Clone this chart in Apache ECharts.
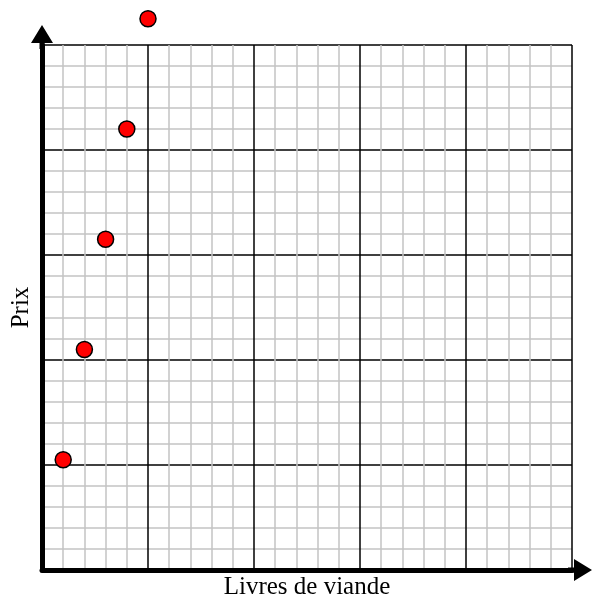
<!DOCTYPE html>
<html>
<head>
<meta charset="utf-8">
<script src="https://cdn.jsdelivr.net/npm/echarts@6/dist/echarts.min.js"></script>
<style>html,body{margin:0;padding:0;background:#fff;overflow:hidden}#c{width:595px;height:605px}</style>
</head>
<body>
<div id="c"></div>
<script>
var livres = [1, 2, 3, 4, 5];
var prix = [5.25, 10.5, 15.75, 21, 26.25];
var xName = 'Livres de viande';
var yName = 'Prix';

var pts = livres.map(function (x, i) { return [x, prix[i]]; });
var font = '"Liberation Serif", "Times New Roman", serif';
var arrowY = 'path://M0,0 L11,18 L2.5,18 L2.5,24 L-2.5,24 L-2.5,18 L-11,18 Z';

function axisCommon(name, gap) {
  return {
    type: 'value', min: 0, max: 25, interval: 5,
    name: name, nameLocation: 'middle', nameGap: gap,
    nameTextStyle: { fontFamily: font, fontSize: 25, color: '#000' },
    axisLabel: { show: false },
    axisTick: { show: false },
    minorTick: { show: false, splitNumber: 5 },
    splitLine: { show: true, lineStyle: { color: '#000', width: 1.5 } },
    minorSplitLine: { show: true, lineStyle: { color: '#c4c4c4', width: 1.5 } },
    axisLine: {
      show: true, onZero: false,
      lineStyle: { color: '#000', width: 5 },
      symbol: ['none', arrowY],
      symbolSize: [22, 24],
      symbolOffset: [0, 8]
    },
    z: 1
  };
}

var chart = echarts.init(document.getElementById('c'), null, { renderer: 'canvas', width: 595, height: 605 });
chart.setOption({
  animation: false,
  backgroundColor: '#fff',
  grid: { left: 42, top: 45, width: 530, height: 530, show: false },
  xAxis: axisCommon(xName, 5),
  yAxis: axisCommon(yName, 8),
  series: [{
    type: 'scatter',
    data: pts,
    symbol: 'circle',
    symbolSize: 16,
    clip: false,
    itemStyle: { color: '#ff0000', borderColor: '#000', borderWidth: 1.5, opacity: 1 },
    z: 5
  }]
});
</script>
</body>
</html>
